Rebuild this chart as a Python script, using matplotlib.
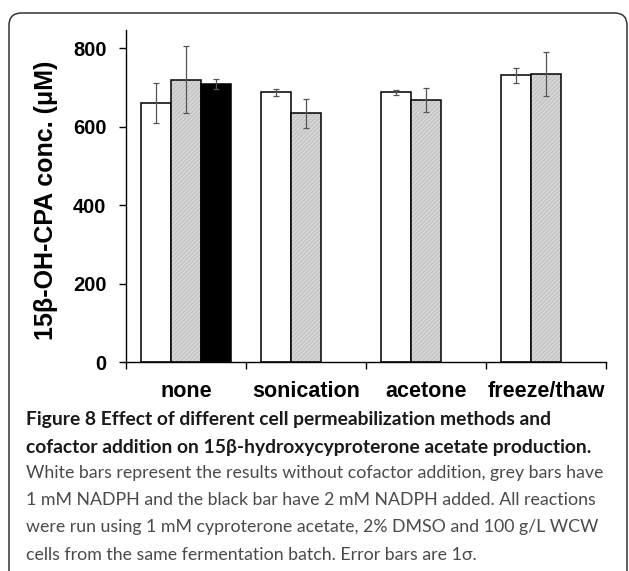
import matplotlib.pyplot as plt
import numpy as np
from matplotlib.patches import FancyBboxPatch

# Mean product concentration (uM) and 1 sigma per permeabilization method
methods = ['none', 'sonication', 'acetone', 'freeze/thaw']
no_cofactor = [661, 688, 688, 731]
no_cofactor_err = [51, 9, 6, 20]
nadph_1mm = [720, 634, 669, 734]
nadph_1mm_err = [86, 36, 30, 56]
nadph_2mm = [709]
nadph_2mm_err = [12]
yticks = [0, 200, 400, 600, 800]

title_lines = ['Figure 8 Effect of different cell permeabilization methods and',
               'cofactor addition on 15\u03b2-hydroxycyproterone acetate production.']
body_lines = ['White bars represent the results without cofactor addition, grey bars have',
              '1 mM NADPH and the black bar have 2 mM NADPH added. All reactions',
              'were run using 1 mM cyproterone acetate, 2% DMSO and 100 g/L WCW',
              'cells from the same fermentation batch. Error bars are 1\u03c3.']

W, H = 629, 571
fig = plt.figure(figsize=(W / 100, H / 100), dpi=100)
plt.rcParams['font.family'] = ['Liberation Sans', 'DejaVu Sans']
plt.rcParams['hatch.linewidth'] = 0.6

# rounded frame around the figure panel
frame = FancyBboxPatch((9 / W, -0.1), (W - 2 - 9) / W, 1.1 - 13 / H,
                       boxstyle='round,pad=0,rounding_size=0.02',
                       transform=fig.transFigure, facecolor='none',
                       edgecolor='#333333', linewidth=1.1, mutation_aspect=W / H)
fig.patches.append(frame)

ax = fig.add_axes([126 / W, (H - 362) / H, 480 / W, 332 / H])

x = np.arange(len(methods))
width = 0.25
err_kw = dict(ecolor='#555555', elinewidth=0.9, capsize=2.5, capthick=0.9)

ax.bar(x + 0.25, no_cofactor, width, color='white', edgecolor='black',
       linewidth=1.1, yerr=no_cofactor_err, error_kw=err_kw, zorder=2)
# grey bars: fine diagonal shading underneath a black outline
ax.bar(x + 0.5, nadph_1mm, width, color='#d6d6d6', edgecolor='#b8b8b8',
       hatch='////////', linewidth=0, zorder=2)
ax.bar(x + 0.5, nadph_1mm, width, color='none', edgecolor='black',
       linewidth=1.1, yerr=nadph_1mm_err, error_kw=err_kw, zorder=3)
ax.bar(x[:1] + 0.75, nadph_2mm, width, color='black', edgecolor='black',
       linewidth=1.1, yerr=nadph_2mm_err, error_kw=err_kw, zorder=2)

ax.set_xlim(0, len(methods))
ax.set_ylim(0, 847)
ax.spines['top'].set_visible(False)
ax.spines['right'].set_visible(False)
for s in ['left', 'bottom']:
    ax.spines[s].set_linewidth(1.0)

ax.set_yticks(yticks)
ax.set_yticklabels([str(v) for v in yticks], fontsize=14.5, fontweight='bold')
ax.tick_params(axis='y', direction='out', length=5, width=1.0, pad=9)

ax.set_xticks(np.arange(len(methods) + 1))
ax.set_xticklabels([])
ax.set_xticks(x + 0.5, minor=True)
ax.set_xticklabels(methods, minor=True, fontsize=15.5, fontweight='bold')
ax.tick_params(axis='x', which='major', direction='out', length=5, width=1.0)
ax.tick_params(axis='x', which='minor', length=0, pad=14)

ax.set_ylabel('15\u03b2-OH-CPA conc. (\u03bcM)', fontsize=18, fontweight='bold')
ax.yaxis.set_label_coords(46 / W, 1 - 200 / H, transform=fig.transFigure)
ax.yaxis.label.set_va('center')

# caption, sized so the longest line of each block fills its width
renderer = fig.canvas.get_renderer()
cap_font = ['Lato', 'DejaVu Sans']


def caption_block(lines, ys, target, **kw):
    texts = [fig.text(26 / W, 1 - y / H, line, family=cap_font, fontsize=14,
                      va='center', ha='left', **kw) for line, y in zip(lines, ys)]
    widest = max(t.get_window_extent(renderer).width for t in texts)
    for t in texts:
        t.set_fontsize(14 * target / widest)


caption_block(title_lines, [420, 448], 568, fontweight='bold', color='#1a1a1a')
caption_block(body_lines, [473, 500, 527, 555], 580, color='#4a4a4a')

fig.savefig('out.png', dpi=100)
